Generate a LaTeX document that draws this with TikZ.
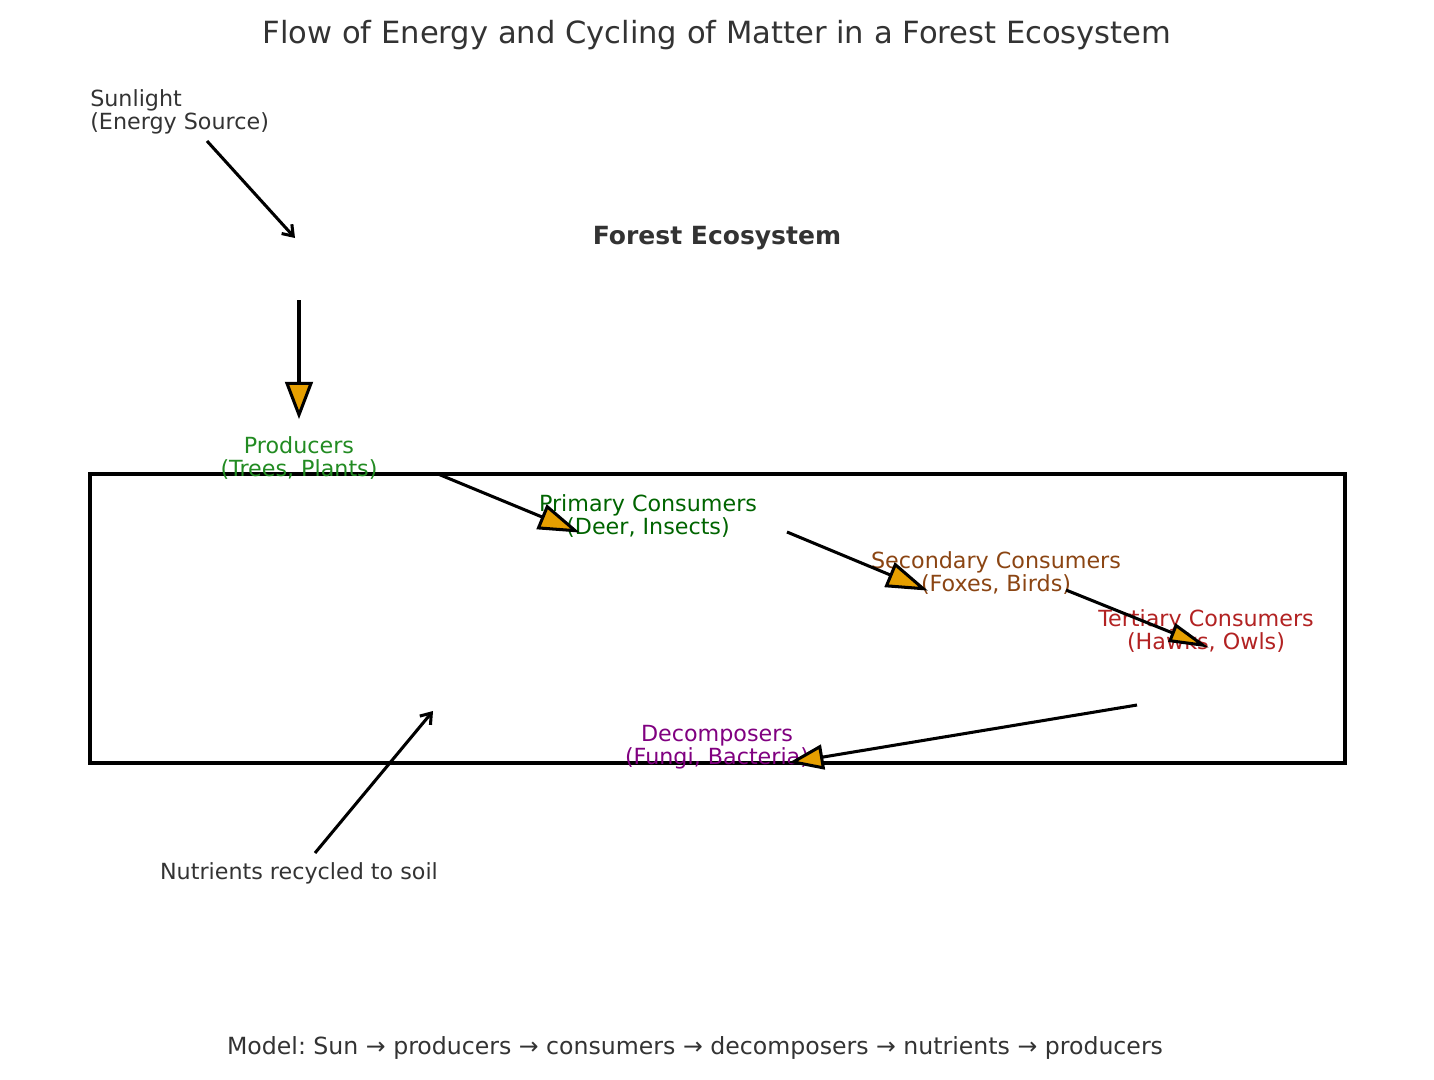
\documentclass[tikz,border=0pt]{standalone}
\usepackage{fontspec}
\setmainfont{DejaVu Sans}
\usepackage{xcolor}
\usetikzlibrary{arrows.meta}
\frenchspacing

\definecolor{inkgray}{HTML}{333333}
\definecolor{arrowfill}{HTML}{E69F00}
\definecolor{prodgreen}{HTML}{228B22}
\definecolor{primgreen}{HTML}{006400}
\definecolor{secbrown}{HTML}{8B4513}
\definecolor{tertred}{HTML}{B22222}
\definecolor{decpurple}{HTML}{800080}

\tikzset{
  lbl/.style={align=center, inner sep=0pt, font=\fontsize{16bp}{16.6bp}\selectfont},
  flow/.style={line width=2.2pt, shorten >=-3pt, -{Triangle[length=27pt, width=20pt, fill=arrowfill]}},
  plainarrow/.style={line width=2.2pt, -{Straight Barb[length=7pt, width=10pt]}}
}

\begin{document}
\begin{tikzpicture}[x=0.01in, y=-0.01in]
        \useasboundingbox (0,0) rectangle (1434,1079);

        % titles
        \node[lbl, text=inkgray, font=\fontsize{22bp}{26bp}\selectfont] (title) at (717,35)
            {Flow of Energy and Cycling of Matter in a Forest Ecosystem};
        \node[lbl, text=inkgray, font=\fontsize{18bp}{22bp}\selectfont\bfseries] (forest) at (717,238)
            {Forest Ecosystem};

        \draw[line width=2.2pt] (90,474) rectangle (1345,763);

        % labels
        \node[lbl, text=inkgray, align=left, anchor=west] (sun) at (90,112) {Sunlight\\(Energy Source)};
        \node[lbl, text=prodgreen] (producers) at (299,458) {Producers\\(Trees, Plants)};
        \node[lbl, text=primgreen] (primary) at (648,516) {Primary Consumers\\(Deer, Insects)};
        \node[lbl, text=secbrown] (secondary) at (996,573) {Secondary Consumers\\(Foxes, Birds)};
        \node[lbl, text=tertred] (tertiary) at (1206,631) {Tertiary Consumers\\(Hawks, Owls)};
        \node[lbl, text=decpurple] (decomposers) at (717,747) {Decomposers\\(Fungi, Bacteria)};
        \node[lbl, text=inkgray] (nutrients) at (299,873) {Nutrients recycled to soil};
        \node[lbl, text=inkgray, font=\fontsize{17bp}{20bp}\selectfont] (model) at (695,1048)
            {Model: Sun → producers → consumers → decomposers → nutrients → producers};

        % arrow ends
        \coordinate (sunA) at (207,141);
        \coordinate (sunB) at (295,238);
        \coordinate (prodA) at (299,300);
        \coordinate (prodB) at (299,415);
        \coordinate (primA) at (438,474);
        \coordinate (primB) at (576,531);
        \coordinate (secA) at (787,532);
        \coordinate (secB) at (924,589);
        \coordinate (tertA) at (1066,590);
        \coordinate (tertB) at (1205,646);
        \coordinate (decA) at (1137,705);
        \coordinate (decB) at (793,762);
        \coordinate (nutA) at (315,853);
        \coordinate (nutB) at (433,711);

        \draw[plainarrow] (sunA) -- (sunB);
        \draw[flow] (prodA) -- (prodB);
        \draw[flow, -{Triangle[length=30pt, width=19pt, fill=arrowfill]}] (primA) -- (primB);
        \draw[flow, -{Triangle[length=30pt, width=19pt, fill=arrowfill]}] (secA) -- (secB);
        \draw[flow, -{Triangle[length=29pt, width=14pt, fill=arrowfill]}] (tertA) -- (tertB);
        \draw[flow, -{Triangle[length=25pt, width=18pt, fill=arrowfill]}] (decA) -- (decB);
        \draw[plainarrow] (nutA) -- (nutB);
\end{tikzpicture}
\end{document}
